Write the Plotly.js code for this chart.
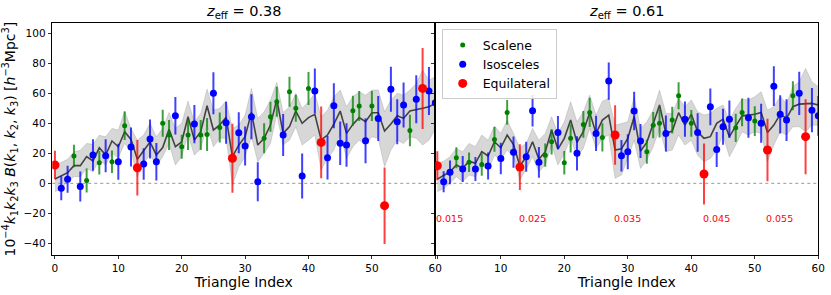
<!DOCTYPE html>
<html><head><meta charset="utf-8">
<script src="https://cdn.plot.ly/plotly-3.0.1.min.js"></script>
<style>html,body{margin:0;padding:0;background:#fff}#chart{width:831px;height:295px}</style>
</head><body><div id="chart"></div>
<script>
// Triangle indices and shape classes
const triangleIndex = [0,1,2,3,4,5,6,7,8,9,10,11,12,13,14,15,16,17,18,19,20,21,22,23,24,25,26,27,28,29,30,31,32,33,34,35,36,37,38,39,40,41,42,43,44,45,46,47,48,49,50,51,52,53,54,55,56,57,58,59,60];
const triangleType = ['E','I','I','S','I','S','I','S','I','S','I','S','I','E','I','I','I','S','S','I','S','S','I','S','S','I','S','I','E','I','I','I','I','S','S','S','I','S','S','I','S','I','E','I','I','I','I','S','S','I','S','I','E','I','I','I','S','I','E','I','I'];

// z_eff = 0.38
const val038 = [12.2,-3.3,2.7,18.2,-2.2,1.8,18.9,13.8,18.4,14.4,14.4,38.4,24.2,10.4,12.9,29.5,14.4,40,32.2,45.1,24.4,32.2,39.5,32.2,32.6,60,37.3,40.4,16.7,33.7,24.9,44.4,1.1,30,44.4,54.4,32.2,61.1,50,4.9,63.3,61.5,27.3,17.1,51.7,26.7,25.5,48.4,51.5,28.4,51.5,43.3,-14.9,62.7,41.1,52.2,35.3,56,63.3,61.5,53.7];
const err038 = [9.5,8,9,7.5,10,8,10.5,8,11,7.5,12,9.5,13,18.5,10.5,13,12.5,9,10,12.5,8,10,12.8,10,11,14,10,14,23,13.7,13,15,13,10,10,10,14,10,9,15,11,15,24,14.5,15,14.5,14.5,10,10,15,10,15,25.5,15,15,15,10.5,16,27,16,16];
const model038 = [2.9,5.1,7.1,11.8,11.8,17.8,14.9,23.8,18.9,28.2,24.4,34.4,29.3,16,21.5,27.5,18.9,23.8,36,24.4,27.7,44.4,28.8,34.4,51.7,35.5,38.9,44,17.8,25.5,31.1,47.3,25.5,30,38.9,56,33.3,37.8,48.2,40,43.8,46,28.9,32.2,39.5,48.2,33.3,39.3,43.8,41.1,47.1,47.1,34.9,39.5,45.1,43.3,48.2,48.9,50,51.1,53.3];
const lo038 = [-5.6,-3.4,1.1,4.4,4.4,9.9,7.7,15.5,12.2,20,17.1,26.6,21.5,4.4,13.3,19,11.7,17.7,26.6,12.2,17.7,32.2,18.8,23.3,38.8,24.4,30,30,-1.2,11,17.7,31.1,14.4,20,26.6,46,25.5,28.8,37.7,25.5,28.8,32.2,8.8,16.6,22.2,33.3,16.6,24.4,28.8,25.5,31,30,11.1,22.2,28.8,26.6,31,30,25.5,28.8,36];
const hi038 = [12,14,16,21,22,26.6,26,32,31,36.6,35.5,48.2,36.6,28.8,32.2,40,31,36.6,47.3,36.6,40,54.8,41,46.6,62.8,48.8,50,55,36.6,38.8,45.5,63.3,43.3,47.7,55.5,67.3,47.3,51,60,50,54.4,60,44.4,48.8,57.7,62.2,51.1,57.7,61,58.8,62.2,62.2,47.7,55.5,60,58.8,62.2,66.6,75.5,68.8,71];

// z_eff = 0.61
const val061 = [11.7,1.1,7.3,17.1,9.5,14,9.5,12.6,11.5,29.3,16.6,47.3,20.8,10.8,17.7,48.4,14,18.8,27.7,33.9,13.7,30,20,39.3,47.3,33.3,30.6,68.2,32.2,18.4,21.1,48.2,28.2,21.1,38.8,40,33.3,42.2,58.4,42.8,40,33.9,6.2,51,22.6,37.7,42.8,37,47.3,43.7,41.5,40,22.2,64.8,46,42.2,58.4,60,31.1,48.8,45];
const err061 = [9.7,7,8,7,8.7,6.5,8,7.5,9,8.3,10.5,8.3,10.5,15.3,10,10.5,10.3,7.8,8.4,11,7.8,9.4,11.4,8.9,9.7,11.7,9.4,12.4,19.8,10.5,11.7,12.8,11.3,8,8.7,9.4,12,8.9,9,11.8,8.9,12.8,20.3,12.2,11.7,12,12.5,9.4,9.2,13.3,9.9,13,20.8,13.2,12.8,13.9,9.7,14.4,25,14.7,13.3];
const model061 = [2.8,5.5,7.7,12.2,10,14.8,13.3,21.1,18.2,27.7,23.7,32.2,25.9,11.5,17.7,27.7,16,21.1,35.5,22.8,30,42.2,27.3,34.4,47.3,33.3,42.2,45.5,22.2,23,30,44.4,21.5,27.3,40,52.2,33.3,34.8,47.1,38.8,46,34.4,30,31.1,40,42.8,31.1,37.7,45,45.5,46,47.3,33.9,38.8,46,43.3,51.1,52.8,52.8,53.3,52.2];
const lo061 = [-5.6,-3.4,0,4.4,1.1,5.5,4.4,12.2,8.8,18.8,15.5,22.2,17.7,2.2,9.5,17.7,7.7,12.2,25.5,12.2,20,30,17.7,23.3,36.6,23.3,30,32.2,3.3,5.5,16.6,28.8,9.9,15.5,24.4,36.6,21.1,22.2,32.2,25.5,28.8,18.8,14.4,16.6,22.2,32.2,17.7,25.5,34.4,32.2,34.4,33.3,14.4,25.5,34.4,32.2,37.7,37.7,34.4,38.8,38.8];
const hi061 = [13.3,14.8,17.7,23.3,21.1,26.6,24.4,32.2,28.8,38.2,33.3,42,33.3,23.7,26.6,36.6,28.8,33.3,44.4,33.3,41,54.4,41,47.7,58.8,45.5,54.8,56.6,38.8,40,41,57.7,36.6,41,48.8,62.2,46.6,46.6,56.6,51.1,55.5,47.7,45.5,46.6,50,52.2,42.2,50,56.2,55.5,57.7,61,48.8,51.1,57.7,53.3,64.4,67.7,76.6,67.7,64.4];

// Axis tick labels
const xTickVals = [0,10,20,30,40,50,60];
const xTickTextLeft = ['0','10','20','30','40','50','60'];
const xTickTextRight = ['','10','20','30','40','50','60']; // right panel "0" sits under the left panel's "60"
const yTickVals = [-40,-20,0,20,40,60,80,100];

// Equilateral k labels (right panel)
const kLabelIndex = [0,13,28,42,52];
const kLabelText = ['0.015','0.025','0.035','0.045','0.055'];
const panelTitles = ['<i>z</i><sub>eff</sub> = 0.38','<i>z</i><sub>eff</sub> = 0.61'];

const typeNames = {S:'Scalene', I:'Isosceles', E:'Equilateral'};
const typeColor = {S:'rgb(0,128,0)', I:'rgb(0,0,255)', E:'rgb(255,0,0)'};
const typeBar = {S:'rgba(0,128,0,0.75)', I:'rgba(0,0,255,0.75)', E:'rgba(255,0,0,0.75)'};
const typeSize = {S:5, I:7, E:9};

function panelTraces(vals, errs, model, lo, hi, xa, ya, showLeg) {
  const tr = [];
  tr.push({x: triangleIndex, y: lo, xaxis: xa, yaxis: ya, mode:'lines', line:{color:'rgba(130,130,130,0.45)', width:0.6}, showlegend:false, hoverinfo:'skip'});
  tr.push({x: triangleIndex, y: hi, xaxis: xa, yaxis: ya, mode:'lines', fill:'tonexty', fillcolor:'rgba(140,140,140,0.35)', line:{color:'rgba(130,130,130,0.45)', width:0.6}, showlegend:false, hoverinfo:'skip'});
  tr.push({x: triangleIndex, y: model, xaxis: xa, yaxis: ya, mode:'lines', line:{color:'rgba(40,40,40,0.85)', width:1.6}, showlegend:false, hoverinfo:'skip'});
  ['S','I','E'].forEach(t => {
    const xs=[], ys=[], es=[];
    triangleIndex.forEach((k,i) => { if (triangleType[i]===t) { xs.push(k); ys.push(vals[i]); es.push(errs[i]); } });
    tr.push({x: xs, y: ys, xaxis: xa, yaxis: ya, mode:'markers', name: typeNames[t], showlegend: showLeg,
      marker:{color: typeColor[t], size: typeSize[t]},
      error_y:{type:'data', array: es, visible:true, thickness:2, width:0, color: typeBar[t]}});
  });
  return tr;
}

const data = [].concat(
  panelTraces(val038, err038, model038, lo038, hi038, 'x', 'y', false),
  panelTraces(val061, err061, model061, lo061, hi061, 'x2', 'y2', true)
);

const font = {family:'DejaVu Sans, sans-serif', color:'#000'};
const xCommon = {tickvals:xTickVals, ticks:'outside', ticklen:3.5, tickwidth:0.8, tickcolor:'#000',
  showline:true, linecolor:'#000', linewidth:1, mirror:true, showgrid:false, zeroline:false,
  tickfont:{size:10.5}, title:{text:'Triangle Index', font:{size:14}, standoff:3}};
const yCommon = {range:[-47.8,106.7], tickvals:yTickVals, ticks:'outside', ticklen:3.5, tickwidth:0.8, tickcolor:'#000',
  showline:true, linecolor:'#000', linewidth:1, mirror:true, showgrid:false, zeroline:false, tickfont:{size:10.5},
  domain:[0.1356,0.921]};

const annotations = [];
[0.2934, 0.7543].forEach((cx,i) => annotations.push({xref:'paper', yref:'paper', x:cx, y:1-12/295, text:panelTitles[i], showarrow:false, font:{size:14.5}, xanchor:'center', yanchor:'middle'}));
kLabelIndex.forEach((k,i) => annotations.push({xref:'x2', yref:'y2', x:k, y:-23.3, text:kLabelText[i], showarrow:false, xanchor:'left', yanchor:'middle', xshift:-3, font:{size:9.5, color:'red'}}));

const shapes = [
  {type:'line', xref:'x domain', yref:'y', x0:0, x1:1, y0:0, y1:0, line:{color:'#999', width:1, dash:'dot'}, layer:'below'},
  {type:'line', xref:'x2 domain', yref:'y2', x0:0, x1:1, y0:0, y1:0, line:{color:'#999', width:1, dash:'dot'}, layer:'below'}
];

const layout = {
  width:831, height:295, margin:{l:0,r:0,t:0,b:0}, paper_bgcolor:'#fff', plot_bgcolor:'#fff', font: font,
  xaxis: Object.assign({}, xCommon, {domain:[0.0629,0.5238], range:[-0.42,60], anchor:'y', ticktext:xTickTextLeft, tickmode:'array'}),
  xaxis2: Object.assign({}, xCommon, {domain:[0.5238,0.9847], range:[-0.32,60], anchor:'y2', ticktext:xTickTextRight, tickmode:'array'}),
  yaxis: Object.assign({}, yCommon, {anchor:'x', title:{text:'10<sup>−4</sup><i>k</i><sub>1</sub><i>k</i><sub>2</sub><i>k</i><sub>3</sub> <i>B</i>(<i>k</i><sub>1</sub>, <i>k</i><sub>2</sub>, <i>k</i><sub>3</sub>) [<i>h</i><sup>−3</sup>Mpc<sup>3</sup>]', font:{size:14}, standoff:6}}),
  yaxis2: Object.assign({}, yCommon, {anchor:'x2', showticklabels:false}),
  showlegend:true,
  legend:{x:441.7/831, y:1-29.3/295, xanchor:'left', yanchor:'top', bgcolor:'rgba(255,255,255,0.85)', bordercolor:'#ccc', borderwidth:1, font:{size:12.5}, tracegroupgap:0, traceorder:'normal'},
  annotations: annotations, shapes: shapes
};

Plotly.newPlot('chart', data, layout, {displayModeBar:false, staticPlot:true});
</script></body></html>
